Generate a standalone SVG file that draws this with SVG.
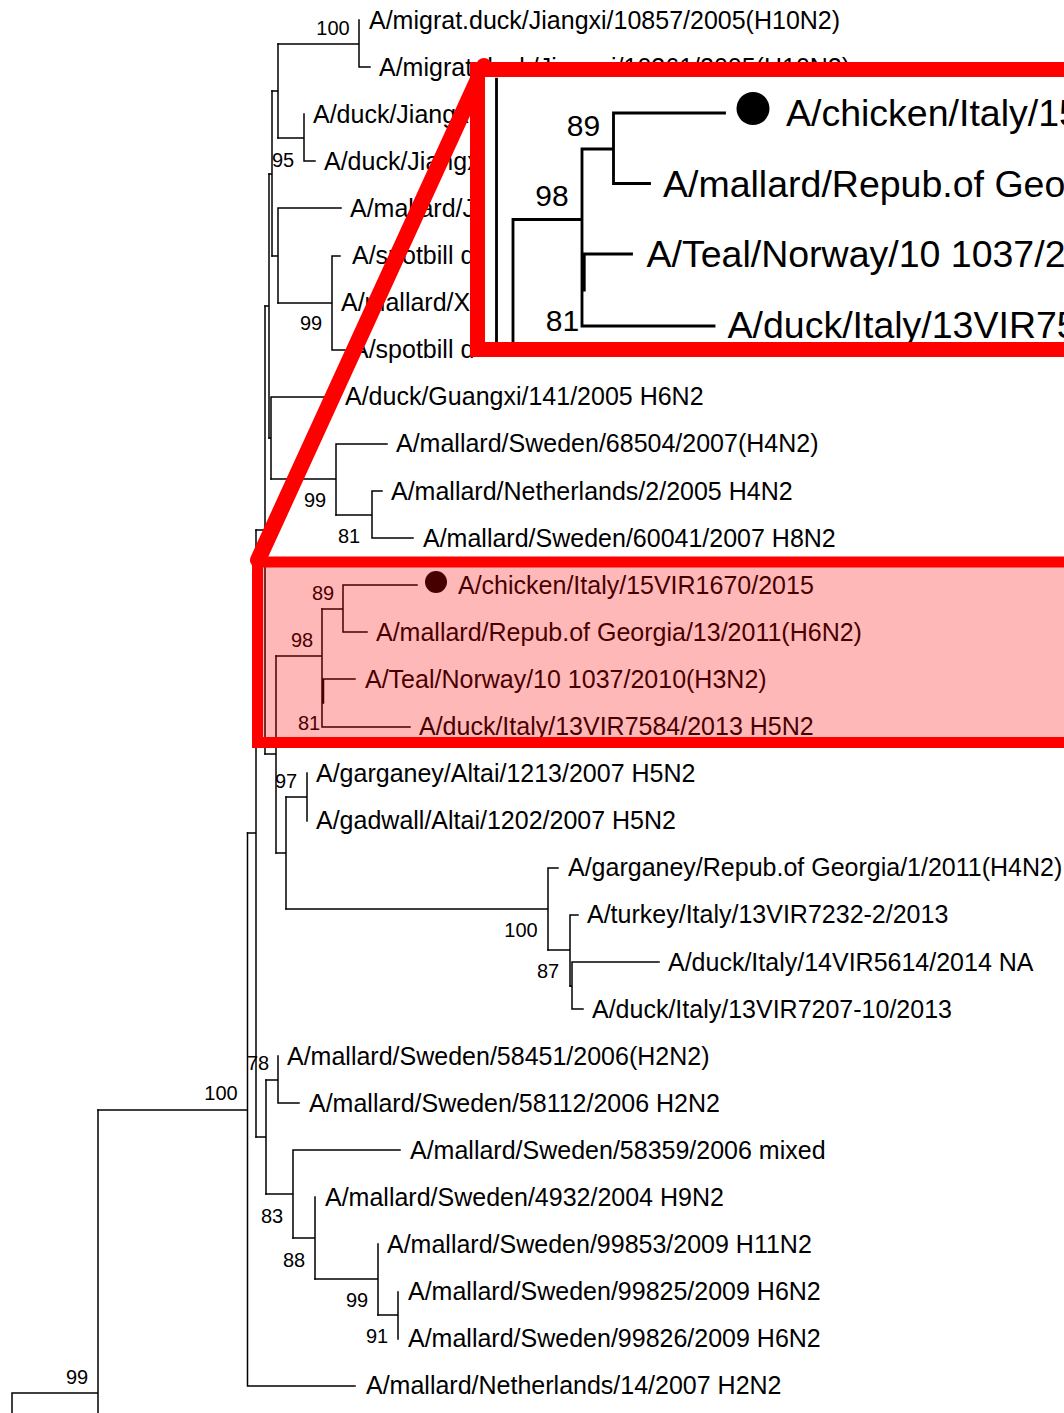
<svg xmlns="http://www.w3.org/2000/svg" width="1064" height="1413" viewBox="0 0 1064 1413">
<style>
.t{font-family:"Liberation Sans",Arial,sans-serif;font-size:25px;fill:#000}
.b{font-family:"Liberation Sans",Arial,sans-serif;font-size:20px;fill:#000}
.e{fill:none;stroke:#000;stroke-width:1.5;stroke-linecap:square}
.ie{fill:none;stroke:#000;stroke-width:1.9;stroke-linecap:square}
</style>
<defs>
<clipPath id="insetClip"><rect x="257.3" y="561.5" width="600" height="177"/></clipPath>
</defs>
<rect width="1064" height="1413" fill="#fff"/>
<g id="connectors" class="e">
<path d="M359,20 V67 H370 M278,44 H359"/>
<path d="M304,114 V161 H315 M278,138 H304"/>
<path d="M278,44 V138 M272,91 H278"/>
<path d="M340,256 H332 V350 H345 M278,303 H332"/>
<path d="M341,208 H278 V303 M272,256 H278"/>
<path d="M272,91 V256 M269,174 H272"/>
<path d="M382,491 H372 V538 H413 M336,515 H372"/>
<path d="M387,444 H336 V515 M271,479 H336"/>
<path d="M338,397 H271 V479 M269,438 H271"/>
<path d="M269,174 V438 M265,306 H269"/>
<path d="M417,585 H343 V632 H367 M322,609 H343"/>
<path d="M322,609 V727 H410 M322,679 H355 M323.5,679 V703 M276,656 H322"/>
<path d="M276,656 V853 M265,754 H276"/>
<path d="M286,797 V909 M276,853 H286"/>
<path d="M307,773 V821 M286,797 H307"/>
<path d="M558,868 H548 V950 M286,909 H548"/>
<path d="M578,915 H570 V986 M548,950 H570"/>
<path d="M659,962 H572 V1009 H583 M570,986 H572"/>
<path d="M265,306 V754 M256,530 H265"/>
<path d="M278,1056 V1103 H299 M266,1080 H278"/>
<path d="M398,1292 V1339 M378,1315 H398"/>
<path d="M378,1244 V1315 M315,1279 H378"/>
<path d="M315,1197 V1279 M293,1238 H315"/>
<path d="M400,1150 H293 V1238 M266,1194 H293"/>
<path d="M266,1080 V1194 M256,1137 H266"/>
<path d="M256,530 V1137 M247.5,833 H256"/>
<path d="M247.5,833 V1386 H355 M98,1110 H247.5"/>
<path d="M98,1110 V1420 M12,1393 H98 M12,1393 V1420"/>
</g>
<g id="supports" class="b" text-anchor="middle">
<text x="333" y="35">100</text>
<text x="283" y="167">95</text>
<text x="311" y="330">99</text>
<text x="315" y="507">99</text>
<text x="349" y="543">81</text>
<text x="323" y="600">89</text>
<text x="302" y="647">98</text>
<text x="309" y="730">81</text>
<text x="286" y="788">97</text>
<text x="521" y="937">100</text>
<text x="548" y="978">87</text>
<text x="258" y="1070">78</text>
<text x="221" y="1100">100</text>
<text x="272" y="1223">83</text>
<text x="294" y="1267">88</text>
<text x="357" y="1307">99</text>
<text x="377" y="1343">91</text>
<text x="77" y="1384">99</text>
</g>
<g id="leaf01"><text class="t" x="369" y="28.5">A/migrat.duck/Jiangxi/10857/2005(H10N2)</text></g>
<g id="leaf02"><text class="t" x="379" y="75.6">A/migrat.duck/Jiangxi/10361/2005(H10N2)</text></g>
<g id="leaf03"><text class="t" x="313" y="122.7">A/duck/Jiangxi</text></g>
<g id="leaf04"><text class="t" x="324" y="169.8">A/duck/Jiangxi</text></g>
<g id="leaf05"><text class="t" x="350" y="216.9">A/mallard/Jiangxi</text></g>
<g id="leaf06"><text class="t" x="352" y="264">A/spotbill duck</text></g>
<g id="leaf07"><text class="t" x="341" y="311.1">A/mallard/Xuyi</text></g>
<g id="leaf08"><text class="t" x="352" y="358.2">A/spotbill d</text></g>
<g id="leaf09"><text class="t" x="345" y="405.3">A/duck/Guangxi/141/2005 H6N2</text></g>
<g id="leaf10"><text class="t" x="396" y="452.4">A/mallard/Sweden/68504/2007(H4N2)</text></g>
<g id="leaf11"><text class="t" x="391" y="499.5">A/mallard/Netherlands/2/2005 H4N2</text></g>
<g id="leaf12"><text class="t" x="423" y="546.6">A/mallard/Sweden/60041/2007 H8N2</text></g>
<g id="leaf13"><circle cx="436" cy="582" r="11" fill="#000"/><text class="t" x="458" y="593.7">A/chicken/Italy/15VIR1670/2015</text></g>
<g id="leaf14"><text class="t" x="376" y="640.8">A/mallard/Repub.of Georgia/13/2011(H6N2)</text></g>
<g id="leaf15"><text class="t" x="365" y="687.9">A/Teal/Norway/10 1037/2010(H3N2)</text></g>
<g id="leaf16"><text class="t" x="419" y="735">A/duck/Italy/13VIR7584/2013 H5N2</text></g>
<g id="leaf17"><text class="t" x="316" y="782.1">A/garganey/Altai/1213/2007 H5N2</text></g>
<g id="leaf18"><text class="t" x="316" y="829.2">A/gadwall/Altai/1202/2007 H5N2</text></g>
<g id="leaf19"><text class="t" x="568" y="876.3">A/garganey/Repub.of Georgia/1/2011(H4N2)</text></g>
<g id="leaf20"><text class="t" x="587" y="923.4">A/turkey/Italy/13VIR7232-2/2013</text></g>
<g id="leaf21"><text class="t" x="668" y="970.5">A/duck/Italy/14VIR5614/2014 NA</text></g>
<g id="leaf22"><text class="t" x="592" y="1017.6">A/duck/Italy/13VIR7207-10/2013</text></g>
<g id="leaf23"><text class="t" x="287" y="1064.7">A/mallard/Sweden/58451/2006(H2N2)</text></g>
<g id="leaf24"><text class="t" x="309" y="1111.8">A/mallard/Sweden/58112/2006 H2N2</text></g>
<g id="leaf25"><text class="t" x="410" y="1158.9">A/mallard/Sweden/58359/2006 mixed</text></g>
<g id="leaf26"><text class="t" x="325" y="1206">A/mallard/Sweden/4932/2004 H9N2</text></g>
<g id="leaf27"><text class="t" x="387" y="1253.1">A/mallard/Sweden/99853/2009 H11N2</text></g>
<g id="leaf28"><text class="t" x="408" y="1300.2">A/mallard/Sweden/99825/2009 H6N2</text></g>
<g id="leaf29"><text class="t" x="408" y="1347.3">A/mallard/Sweden/99826/2009 H6N2</text></g>
<g id="leaf30"><text class="t" x="366" y="1394.4">A/mallard/Netherlands/14/2007 H2N2</text></g>
<g id="highlight">
<rect x="257.5" y="562" width="900" height="180.5" fill="#ff0000" fill-opacity="0.28" stroke="#ff0000" stroke-width="11"/>
</g>
<g id="zoom-link">
<line x1="484" y1="66" x2="258" y2="560" stroke="#ff0000" stroke-width="16" stroke-linecap="round"/>
</g>
<g id="inset">
<rect x="485" y="77" width="600" height="266" fill="#fff"/>
<g clip-path="url(#insetClip)" transform="translate(99,-764.5) scale(1.5)">
<path class="ie" d="M265,306 V754 M276,656 V853 M417,585 H343 V632 H367 M322,609 H343 M322,609 V727 H410 M322,679 H355 M323.5,679 V703 M276,656 H322"/>
<circle cx="436" cy="582" r="11" fill="#000"/>
<text class="t" x="458" y="593.7">A/chicken/Italy/15VIR1670/2015</text>
<text class="t" x="376" y="640.8">A/mallard/Repub.of Georgia/13/2011(H6N2)</text>
<text class="t" x="365" y="687.9">A/Teal/Norway/10 1037/2010(H3N2)</text>
<text class="t" x="419" y="735">A/duck/Italy/13VIR7584/2013 H5N2</text>
<g class="b" text-anchor="middle">
<text x="323" y="600">89</text>
<text x="302" y="647">98</text>
<text x="309" y="730">81</text>
</g>
</g>
<rect x="477.5" y="69.5" width="800" height="280" fill="none" stroke="#ff0000" stroke-width="15"/>
</g>
</svg>
